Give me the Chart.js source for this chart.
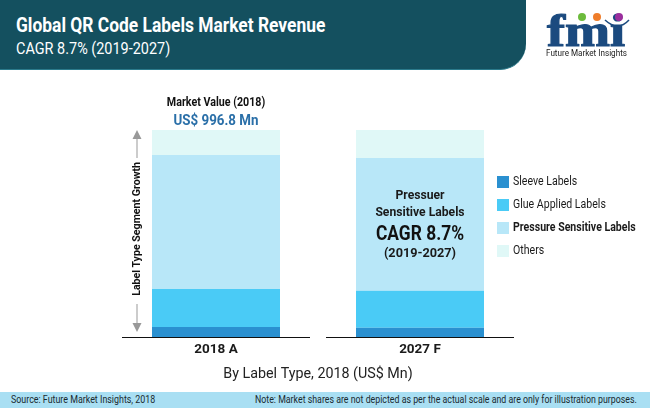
<!DOCTYPE html>
<html>
<head>
<meta charset="utf-8">
<script src="https://cdn.jsdelivr.net/npm/chart.js@4"></script>
<style>
  html, body { margin: 0; padding: 0; background: #fff; }
  #page { position: relative; width: 650px; height: 408px; overflow: hidden; font-family: Roboto, sans-serif; }
  #chart { position: absolute; left: 0; top: 0; }
  .t { position: absolute; white-space: nowrap; line-height: 1; transform-origin: left center; }
  .c { transform-origin: center center; }
  #header { position: absolute; left: 0; top: 0; width: 526px; height: 69px; background: #14505f;
            border-bottom: 1px solid #2b7a8b; border-bottom-right-radius: 26px; }
  #footer { position: absolute; left: 0; top: 392px; width: 650px; height: 16px; background: #a9dff3; }
  .swatch { position: absolute; left: 497px; width: 12px; height: 12px; }
</style>
</head>
<body>
<div id="page">
  <canvas id="chart" width="650" height="408"></canvas>

  <div id="header"></div>
  <div class="t" style="left:16px;top:15px;font-size:20px;font-weight:700;color:#fff;transform:scaleX(.87)">Global QR Code Labels Market Revenue</div>
  <div class="t" style="left:16px;top:40px;font-size:17px;color:#fff;transform:scaleX(.85)">CAGR 8.7% (2019-2027)</div>

  <svg style="position:absolute;left:540px;top:8px" width="100" height="52">
    <text x="7" y="38" font-family="Liberation Serif" font-weight="700" font-size="46" fill="#1b4a7f" stroke="#1b4a7f" stroke-width="1.2" textLength="78" lengthAdjust="spacingAndGlyphs">fmi</text>
    <circle cx="42" cy="9" r="4" fill="#6cbb3c"/>
    <circle cx="57" cy="9" r="4" fill="#ef7d2a"/>
    <circle cx="79" cy="9" r="4" fill="#9b2f9e"/>
    <path d="M65 12 Q78 24 89 12" fill="none" stroke="#1b4a7f" stroke-width="1.5"/>
    <text x="6" y="48" font-family="Roboto" font-size="8.5" fill="#222" textLength="81" lengthAdjust="spacingAndGlyphs">Future Market Insights</text>
  </svg>

  <div class="t c" style="left:116px;width:200px;top:96px;text-align:center;font-size:12px;font-weight:700;color:#111;transform:scaleX(.89)">Market Value (2018)</div>
  <div class="t c" style="left:116px;width:200px;top:114px;text-align:center;font-size:14.5px;font-weight:700;color:#2a6fa8;transform:scaleX(.92)">US$ 996.8 Mn</div>

  <div class="t c" style="left:320px;width:200px;top:188px;text-align:center;font-size:13.5px;font-weight:700;color:#1a1a1a;transform:scaleX(.9)">Pressuer</div>
  <div class="t c" style="left:320px;width:200px;top:205px;text-align:center;font-size:13.5px;font-weight:700;color:#1a1a1a;transform:scaleX(.9)">Sensitive Labels</div>
  <div class="t c" style="left:320px;width:200px;top:223px;text-align:center;font-size:20px;font-weight:700;color:#111;transform:scaleX(.87)">CAGR 8.7%</div>
  <div class="t c" style="left:320px;width:200px;top:246px;text-align:center;font-size:13.5px;font-weight:700;color:#1a1a1a;transform:scaleX(.94)">(2019-2027)</div>

  <svg style="position:absolute;left:127px;top:125px" width="20" height="212">
    <path d="M10 33V10M10 179V200" stroke="#999" stroke-width="1" fill="none"/>
    <path d="M10 5L5.5 14H14.5Z M10 207L5.5 198H14.5Z" fill="#999"/>
  </svg>
  <div class="t c" style="left:37px;width:200px;top:223px;text-align:center;font-size:11.8px;font-weight:700;color:#111;transform:rotate(-90deg) scaleX(.9)">Label Type Segment Growth</div>

  <div id="legend"></div>

  <div id="footer"></div>
  <div class="t" style="left:11px;top:395px;font-size:10.5px;color:#1a2a30;transform:scaleX(.845)">Source: Future Market Insights, 2018</div>
  <div class="t" style="left:255px;top:395px;font-size:10.5px;color:#1a2a30;transform:scaleX(.838)">Note: Market shares are not depicted as per the actual scale and are only for illustration purposes.</div>
</div>

<script>
// Data, shares (bars are illustrative, each adds up to 100)
const categories = ['2018 A', '2027 F'];
const sleeveLabels = [4.8, 4.5];
const glueAppliedLabels = [18.4, 17.9];
const pressureSensitiveLabels = [64.7, 64.1];
const others = [12.1, 13.5];

const seriesNames = ['Sleeve Labels', 'Glue Applied Labels', 'Pressure Sensitive Labels', 'Others'];
const seriesColors = ['#2a90d0', '#4acbf6', '#b8e7f8', '#e0f8f7'];
const seriesValues = [sleeveLabels, glueAppliedLabels, pressureSensitiveLabels, others];

// Baseline is two short rules, one under each bar, not a single axis line
const baselinePlugin = {
  id: 'baseline',
  afterDatasetsDraw(chart) {
    const { ctx, scales } = chart;
    const y = scales.y.getPixelForValue(0);
    ctx.save();
    ctx.strokeStyle = '#111';
    ctx.lineWidth = 1;
    categories.forEach((c, i) => {
      const x = scales.x.getPixelForValue(i);
      ctx.beginPath();
      ctx.moveTo(x - 94, y + 0.5);
      ctx.lineTo(x + 94, y + 0.5);
      ctx.stroke();
    });
    ctx.restore();
  }
};

new Chart(document.getElementById('chart'), {
  type: 'bar',
  data: {
    labels: categories,
    datasets: seriesNames.map((name, i) => ({
      label: name,
      data: seriesValues[i],
      backgroundColor: seriesColors[i],
      barPercentage: 128 / 204,
      categoryPercentage: 1
    }))
  },
  options: {
    responsive: false,
    animation: false,
    layout: { padding: { left: 114, right: 128, top: 130, bottom: 0 } },
    plugins: { legend: { display: false }, tooltip: { enabled: false } },
    scales: {
      x: {
        stacked: true,
        grid: { display: false, drawTicks: false },
        border: { display: false },
        afterFit(scale) { scale.height = 71; },
        ticks: { color: '#1a1a1a', padding: 5, maxRotation: 0, font: { family: 'Roboto', size: 13.5, weight: '700' } },
        title: {
          display: true,
          text: 'By Label Type, 2018 (US$ Mn)',
          color: '#222',
          padding: { top: 6, bottom: 25 },
          font: { family: 'Roboto', size: 14.3 }
        }
      },
      y: { stacked: true, display: false, min: 0, max: 100 }
    }
  },
  plugins: [baselinePlugin]
});

// Legend, same names and colours as the datasets
const legendTops = [176, 199, 222, 245];
const legend = document.getElementById('legend');
seriesNames.forEach((name, i) => {
  const bold = name === 'Pressure Sensitive Labels';
  legend.innerHTML += `<div class="swatch" style="top:${legendTops[i]}px;background:${seriesColors[i]}"></div>
    <div class="t" style="left:513px;top:${legendTops[i] - 1}px;font-size:12.5px;font-weight:${bold ? 700 : 400};color:#1a1a1a;transform:scaleX(.845)">${name}</div>`;
});
</script>
</body>
</html>
